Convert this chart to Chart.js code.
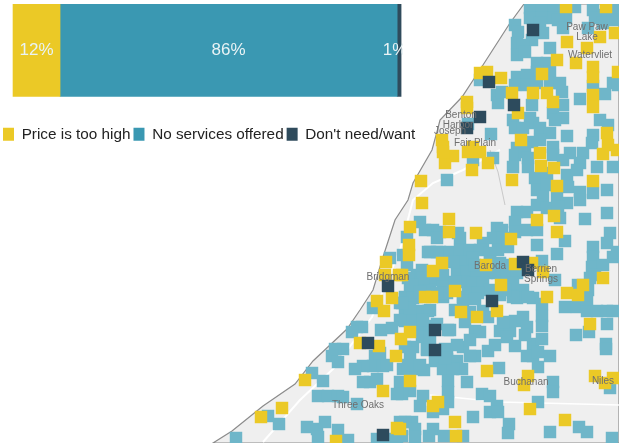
<!DOCTYPE html>
<html>
<head>
<meta charset="utf-8">
<script src="https://cdn.jsdelivr.net/npm/chart.js@4"></script>
<style>
  html, body { margin: 0; background: #fff; }
  canvas { position: absolute; left: 0; top: 0; filter: blur(0.5px); }
</style>
</head>
<body>
<canvas id="mapa" width="628" height="444"></canvas>
<canvas id="barra" width="440" height="152"></canvas>
<script>
const categorias = ["Price is too high", "No services offered", "Don't need/want"];
const porcentajes = [12, 86, 1];
const colores = ["#ebc926", "#3a98b2", "#2f4b5c"];
const colorCuadroAzul = "#6fb6c9";
const colorCuadroOscuro = "#2d4b5d";

// map squares
const puntosPrecio = [
  [566,7],[606,7],[600,37],[615,33],[567,42],[587,48],[557,60],[576,63],[593,67],[593,77],[618,72],[542,74],
  [487,72],[480,73],[501,78],[512,93],[533,93],[547,93],[553,102],[593,95],[593,107],[467,102],[467,108],
  [518,113],[521,140],[442,140],[443,147],[607,133],[608,145],[473,147],
  [445,163],[453,156],[443,152],[472,170],[488,163],[468,152],[480,152],[540,153],[541,166],[554,168],[603,154],[617,150],
  [421,181],[512,180],[557,186],[593,181],[422,203],[449,219],[410,227],[449,232],[476,233],[537,220],[554,216],[557,232],
  [511,239],[409,245],[409,255],[442,263],[433,271],[486,265],[515,264],[532,263],[543,272],[603,278],[402,275],[455,291],
  [501,285],[425,297],[432,297],[583,285],[567,293],[578,295],[547,297],
  [461,312],[477,317],[497,311],[590,324],[487,371],[595,376],[613,378],[605,383],[528,376],[524,385],[410,381],
  [438,402],[433,406],[530,409],[565,420],[455,422],[456,436],[400,429],
  [377,301],[392,298],[384,311],[401,339],[410,332],[360,343],[379,346],[396,356],[383,391],[305,380],[282,408],[261,417],[397,428],[336,441],
  [386,262],[385,275],[399,275]
];
const puntosSinServicio = [
  [530,8],[542,8],[554,8],[530,18],[542,18],[554,18],[566,18],[515,25],[518,32],[540,23],[558,20],[563,28],[543,33],[532,40],
  [517,43],[523,45],[517,55],[525,52],[550,48],[575,7],[593,10],[603,15],[613,10],[595,18],[613,20],[603,23],[588,28],
  [537,63],[547,63],[537,72],[517,77],[527,75],[515,85],[527,85],[537,83],[550,72],[550,83],[562,92],[560,83],[497,95],[498,103],
  [502,92],[480,80],[532,105],[563,105],[553,113],[563,118],[555,120],[580,99],[593,86],[605,94],[613,83],[618,85],
  [530,118],[533,123],[513,120],[515,128],[523,128],[540,128],[550,133],[540,140],[532,142],[567,136],[491,134],[600,120],[608,125],
  [593,135],[592,143],[517,148],[468,124],[553,147],
  [515,155],[525,152],[513,167],[528,158],[528,167],[553,155],[563,160],[570,153],[583,153],[580,163],[597,167],[613,167],[473,160],[493,158],[447,180],
  [535,178],[547,173],[567,175],[577,170],[537,190],[547,185],[543,197],[557,197],[568,187],[567,203],[580,192],[580,200],[593,193],[607,190],
  [517,212],[527,212],[537,205],[547,208],[558,207],[515,222],[527,230],[537,230],[515,232],[560,218],[585,219],[607,213],[610,233],[607,243],
  [565,241],[537,245],[557,254],[593,247],[593,257],[613,257],[617,252],[592,267],[603,265],[542,261],[555,280],[590,278],[578,285],[588,290],
  [420,222],[433,230],[425,230],[440,232],[458,233],[460,238],[437,238],[407,237],[497,228],[502,230],[493,238],[503,238],[498,250],[508,247],[483,243],
  [430,252],[440,252],[450,252],[460,250],[470,250],[480,250],[490,253],[463,262],[473,258],[500,263],[507,265],[457,272],[467,272],[477,273],[487,273],
  [497,273],[507,273],[517,273],[407,265],[417,275],[408,278],[425,275],[433,280],[443,275],[420,287],[410,288],[430,290],[443,287],[463,282],[473,283],
  [483,283],[490,290],[468,293],[478,293],[513,293],[523,290],[533,298],[443,297],[463,297],[517,298],[417,297],[405,297],[513,283],[595,275],
  [405,299],[405,311],[420,311],[428,311],[405,321],[417,321],[437,324],[425,326],[417,331],[422,337],[448,330],[413,347],[405,347],[427,349],[445,349],
  [435,361],[447,359],[457,361],[443,369],[462,369],[453,369],[412,369],[424,370],[403,369],[448,381],[448,392],[448,402],[443,409],[467,382],[410,391],
  [423,396],[420,406],[402,394],[433,412],[482,394],[490,396],[497,406],[490,412],[498,412],[473,417],[440,296],[463,301],[475,299],[470,312],[483,311],
  [488,317],[465,322],[475,331],[480,332],[463,347],[475,356],[488,351],[470,356],[500,331],[510,331],[515,321],[503,322],[523,317],[527,327],[507,337],
  [515,346],[533,344],[542,339],[533,356],[527,356],[538,352],[550,356],[538,367],[499,368],[542,304],[542,316],[542,326],[528,297],[513,297],
  [565,307],[577,307],[587,311],[597,311],[607,311],[613,311],[587,299],[607,324],[576,335],[589,332],[606,344],[606,349],[553,382],[553,392],[538,402],
  [610,388],[509,424],[508,433],[550,432],[579,427],[587,432],[612,438],[412,422],[405,422],[415,429],[433,429],[429,436],[444,436],[463,436],[415,437],[402,436],
  [373,308],[357,327],[362,327],[352,332],[381,330],[343,349],[335,349],[332,356],[338,362],[312,373],[323,381],[375,356],[373,366],[383,366],[363,366],[355,369],
  [370,382],[363,382],[377,379],[400,382],[397,394],[318,396],[328,396],[338,396],[343,397],[357,404],[268,416],[279,424],[307,427],[317,429],[325,422],[318,437],
  [338,430],[348,440],[236,438],[377,439],[387,439],[400,422],[397,439],[400,303],[410,320],[400,320],[413,298],[430,310],[423,320],[450,330],[430,338],
  [392,328],[387,365],[408,365],[420,365],[410,353],[427,350],[447,350],[445,358],[457,345],[440,293],[447,293],[410,308],[380,353],
  [390,258],[403,255],[428,252],[437,252],[422,270],[423,278],[412,285],[420,292],[402,303],[437,293],
  [455,282],[453,262],[475,265],[490,262],[500,295],[505,290],[525,335],[495,345],[455,310],[470,340]
];
const puntosNoQuiere = [
  [533,30],[489,82],[514,105],[480,117],[467,128],[523,262],[528,270],[492,301],[435,330],[435,350],[368,343],[383,435],[388,286]
];

// county outline and a couple of roads
const contorno = [
  [524,4],[619,4],[619,443],[213,443],[232,431],[263,406],[295,384],[313,361],[347,329],[360,310],[373,290],[383,257],[395,220],
  [408,200],[413,183],[432,150],[438,128],[440,120],[462,97],[483,65],[510,23],[524,4]
];
const carretera1 = [[263,442],[300,400],[333,369],[372,317],[400,250],[413,200],[433,183],[463,170],[500,150]];
const carretera2 = [[430,395],[500,402],[619,405]];
const carretera3 = [[490,150],[498,172],[505,205]];

const lugares = ["Paw Paw", "Lake", "Watervliet", "Benton", "Harbor", "Joseph", "Fair Plain", "Bridgman", "Baroda", "Berrien", "Springs", "Buchanan", "Niles", "Three Oaks"];
const lugaresX = [587, 587, 590, 461, 458, 450, 475, 388, 490, 541, 541, 526, 603, 358];
const lugaresY = [27, 37, 55, 115, 125, 131, 143, 277, 266, 269, 279, 382, 381, 405];

const aPares = (lista) => lista.map((p) => ({ x: p[0], y: p[1] }));

const etiquetasLugares = {
  id: "etiquetasLugares",
  afterDatasetsDraw(chart) {
    const { ctx, scales } = chart;
    ctx.save();
    ctx.font = "10px 'Liberation Sans'";
    ctx.textAlign = "center";
    ctx.textBaseline = "middle";
    ctx.fillStyle = "#6f6f6f";
    for (let i = 0; i < lugares.length; i++) {
      ctx.fillText(lugares[i], scales.x.getPixelForValue(lugaresX[i]), scales.y.getPixelForValue(lugaresY[i]));
    }
    ctx.restore();
  },
};

const cuadros = (label, lista, color, order) => ({
  label,
  data: aPares(lista),
  pointStyle: "rect",
  pointRadius: 8.8,
  pointHoverRadius: 8.8,
  pointBackgroundColor: color,
  pointBorderWidth: 0,
  showLine: false,
  clip: 0,
  order,
});

const linea = (data, color, width, order, fill) => ({
  data: aPares(data),
  showLine: true,
  pointRadius: 0,
  borderColor: color,
  borderWidth: width,
  backgroundColor: "#efefef",
  fill,
  tension: 0,
  order,
});

new Chart(document.getElementById("mapa").getContext("2d"), {
  type: "scatter",
  data: {
    datasets: [
      cuadros(categorias[2], puntosNoQuiere, colorCuadroOscuro, 1),
      cuadros(categorias[0], puntosPrecio, colores[0], 2),
      cuadros(categorias[1], puntosSinServicio, colorCuadroAzul, 3),
      linea(carretera1, "#ffffff", 2, 4, false),
      linea(carretera2, "#ffffff", 1.5, 4, false),
      linea(carretera3, "#c9c9c9", 1, 4, false),
      linea(contorno, "#8c8c8c", 1.2, 5, "shape"),
    ],
  },
  options: {
    responsive: false,
    animation: false,
    layout: { autoPadding: false, padding: { top: 4, right: 9, bottom: 1 } },
    plugins: { legend: { display: false }, tooltip: { enabled: false } },
    scales: {
      x: { type: "linear", min: 0, max: 619, display: false },
      y: { type: "linear", min: 4, max: 443, reverse: true, display: false },
    },
  },
  plugins: [etiquetasLugares],
});

const etiquetasBarra = {
  id: "etiquetasBarra",
  afterDatasetsDraw(chart) {
    const { ctx } = chart;
    const finBarra = chart.getDatasetMeta(2).data[0].x;
    ctx.save();
    ctx.beginPath();
    ctx.rect(0, 0, finBarra + 2, chart.height);
    ctx.clip();
    ctx.font = "17px 'Liberation Sans'";
    ctx.textAlign = "center";
    ctx.textBaseline = "middle";
    ctx.fillStyle = "#e9f3f5";
    chart.data.datasets.forEach((ds, i) => {
      const bar = chart.getDatasetMeta(i).data[0];
      const x = Math.min((bar.x + bar.base) / 2, finBarra - 6);
      ctx.fillText(ds.data[0] + "%", x, bar.y);
    });
    ctx.restore();
  },
};

new Chart(document.getElementById("barra").getContext("2d"), {
  type: "bar",
  data: {
    labels: [""],
    datasets: categorias.map((c, i) => ({
      label: c,
      data: [porcentajes[i]],
      backgroundColor: colores[i],
      categoryPercentage: 1,
      barPercentage: 1,
    })),
  },
  options: {
    indexAxis: "y",
    responsive: false,
    animation: false,
    layout: { autoPadding: false, padding: { top: 4 } },
    plugins: {
      tooltip: { enabled: false },
      legend: {
        position: "bottom",
        align: "start",
        labels: {
          boxWidth: 11,
          boxHeight: 13,
          padding: 3,
          color: "#222",
          font: { family: "'Liberation Sans'", size: 15.3 },
        },
      },
    },
    scales: {
      x: {
        stacked: true,
        min: -3.32,
        max: 108.93,
        grid: { display: false },
        border: { display: false },
        ticks: { display: false },
        afterFit(scale) { scale.height = 27; },
      },
      y: { stacked: true, display: false },
    },
  },
  plugins: [etiquetasBarra],
});
</script>
</body>
</html>
